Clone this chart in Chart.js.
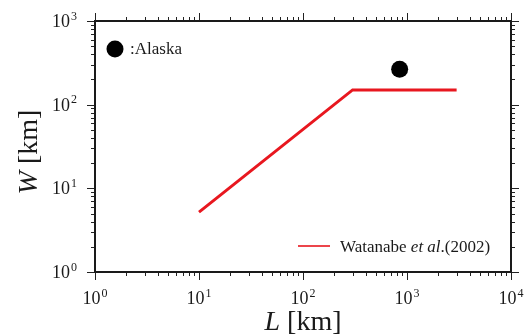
<!DOCTYPE html>
<html>
<head>
<meta charset="utf-8">
<script src="https://cdn.jsdelivr.net/npm/chart.js@4/dist/chart.umd.min.js"></script>
<style>
html,body{margin:0;padding:0;background:#fff;}
#wrap{width:526px;height:336px;position:relative;}
</style>
</head>
<body>
<div id="wrap"><canvas id="c"></canvas></div>
<script>
// ---- data ----
const watanabeL = [10, 300, 3000];
const watanabeW = [5.2, 150, 150];
const alaskaL = [850];
const alaskaW = [265];
const xTickValues = [1, 10, 100, 1000, 10000];
const xTickExp = ['0', '1', '2', '3', '4'];
const yTickValues = [1, 10, 100, 1000];
const yTickExp = ['0', '1', '2', '3'];
const seriesNames = ['Watanabe', ':Alaska'];

const SERIF = '"Liberation Serif", "Times New Roman", serif';
const RED = '#e8171f';
const INK = '#1a1a1a';

function drawPow(ctx, base, exp, x, y, align, size) {
  ctx.font = size + 'px ' + SERIF;
  const wb = ctx.measureText(base).width;
  const supSize = Math.round(size * 0.66);
  ctx.font = supSize + 'px ' + SERIF;
  const we = ctx.measureText(exp).width;
  const total = wb + we + 1;
  let x0 = align === 'center' ? x - total / 2 : (align === 'right' ? x - total : x);
  ctx.textAlign = 'left';
  ctx.textBaseline = 'alphabetic';
  ctx.fillStyle = INK;
  ctx.font = size + 'px ' + SERIF;
  ctx.fillText(base, x0, y);
  ctx.font = supSize + 'px ' + SERIF;
  ctx.fillText(exp, x0 + wb + 1, y - size * 0.4);
}

const decor = {
  id: 'decor',
  afterDatasetsDraw(chart) {
    const {ctx, chartArea: a, scales: {x, y}} = chart;
    ctx.save();
    // ticks
    ctx.strokeStyle = '#222';
    ctx.lineWidth = 1;
    ctx.beginPath();
    for (let d = 0; d < 4; d++) {
      for (let m = 1; m <= 9; m++) {
        const px = Math.round(x.getPixelForValue(m * Math.pow(10, d))) + 0.5;
        const len = m === 1 ? 8 : 4;
        ctx.moveTo(px, a.bottom); ctx.lineTo(px, a.bottom + len);
        ctx.moveTo(px, a.top); ctx.lineTo(px, a.top - len);
      }
    }
    {
      const px = Math.round(x.getPixelForValue(10000)) + 0.5;
      ctx.moveTo(px, a.bottom); ctx.lineTo(px, a.bottom + 8);
      ctx.moveTo(px, a.top); ctx.lineTo(px, a.top - 8);
    }
    for (let d = 0; d < 3; d++) {
      for (let m = 1; m <= 9; m++) {
        const py = Math.round(y.getPixelForValue(m * Math.pow(10, d))) + 0.5;
        const len = m === 1 ? 8 : 4;
        ctx.moveTo(a.left, py); ctx.lineTo(a.left - len, py);
        ctx.moveTo(a.right, py); ctx.lineTo(a.right + len, py);
      }
    }
    {
      const py = Math.round(y.getPixelForValue(1000)) + 0.5;
      ctx.moveTo(a.left, py); ctx.lineTo(a.left - 8, py);
      ctx.moveTo(a.right, py); ctx.lineTo(a.right + 8, py);
    }
    ctx.stroke();
    // frame
    ctx.strokeStyle = INK;
    ctx.lineWidth = 2;
    ctx.strokeRect(a.left, a.top, a.right - a.left, a.bottom - a.top);
    // tick labels
    xTickValues.forEach((v, i) => {
      drawPow(ctx, '10', xTickExp[i], x.getPixelForValue(v), a.bottom + 32, 'center', 18);
    });
    yTickValues.forEach((v, i) => {
      drawPow(ctx, '10', yTickExp[i], a.left - 18, y.getPixelForValue(v) + 6, 'right', 18);
    });
    // axis titles
    ctx.fillStyle = INK;
    ctx.textBaseline = 'alphabetic';
    ctx.textAlign = 'left';
    const fs = 28;
    ctx.font = 'italic ' + fs + 'px ' + SERIF;
    const wL = ctx.measureText('L').width;
    ctx.font = fs + 'px ' + SERIF;
    const wR = ctx.measureText(' [km]').width;
    const cx = (a.left + a.right) / 2;
    let sx = cx - (wL + wR) / 2;
    ctx.font = 'italic ' + fs + 'px ' + SERIF;
    ctx.fillText('L', sx, a.bottom + 58);
    ctx.font = fs + 'px ' + SERIF;
    ctx.fillText(' [km]', sx + wL, a.bottom + 58);

    ctx.save();
    ctx.translate(37, 152);
    ctx.rotate(-Math.PI / 2);
    ctx.font = 'italic ' + fs + 'px ' + SERIF;
    const wW = ctx.measureText('W').width;
    let sy = -(wW + wR) / 2;
    ctx.fillText('W', sy, 0);
    ctx.font = fs + 'px ' + SERIF;
    ctx.fillText(' [km]', sy + wW, 0);
    ctx.restore();

    // legend: Alaska (top-left)
    ctx.fillStyle = '#000';
    ctx.beginPath();
    ctx.arc(a.left + 20, a.top + 28, 8.5, 0, Math.PI * 2);
    ctx.fill();
    ctx.font = '17px ' + SERIF;
    ctx.fillStyle = INK;
    ctx.fillText(seriesNames[1], a.left + 35, a.top + 33);

    // legend: Watanabe (bottom-right)
    const ly = a.bottom - 26;
    ctx.strokeStyle = RED;
    ctx.lineWidth = 1.6;
    ctx.beginPath();
    ctx.moveTo(a.left + 203, ly);
    ctx.lineTo(a.left + 235, ly);
    ctx.stroke();
    let tx = a.left + 245;
    const ty = ly + 6;
    ctx.fillStyle = INK;
    ctx.font = '17px ' + SERIF;
    ctx.fillText(seriesNames[0] + ' ', tx, ty);
    tx += ctx.measureText(seriesNames[0] + ' ').width;
    ctx.font = 'italic 17px ' + SERIF;
    ctx.fillText('et al', tx, ty);
    tx += ctx.measureText('et al').width;
    ctx.font = '17px ' + SERIF;
    ctx.fillText('.(2002)', tx, ty);
    ctx.restore();
  }
};

new Chart(document.getElementById('c'), {
  type: 'line',
  data: {
    datasets: [
      {
        label: 'Watanabe et al.(2002)',
        data: watanabeL.map((v, i) => ({x: v, y: watanabeW[i]})),
        borderColor: RED,
        borderWidth: 3,
        pointRadius: 0,
        fill: false,
        tension: 0
      },
      {
        label: 'Alaska',
        data: alaskaL.map((v, i) => ({x: v, y: alaskaW[i]})),
        showLine: false,
        pointRadius: 8.5,
        pointBackgroundColor: '#000',
        pointBorderColor: '#000',
        pointBorderWidth: 0
      }
    ]
  },
  options: {
    responsive: true,
    maintainAspectRatio: false,
    animation: false,
    layout: {padding: {left: 95, right: 15, top: 21, bottom: 64}},
    plugins: {legend: {display: false}, tooltip: {enabled: false}},
    scales: {
      x: {type: 'logarithmic', min: 1, max: 10000, display: false},
      y: {type: 'logarithmic', min: 1, max: 1000, display: false}
    }
  },
  plugins: [decor]
});
</script>
</body>
</html>
